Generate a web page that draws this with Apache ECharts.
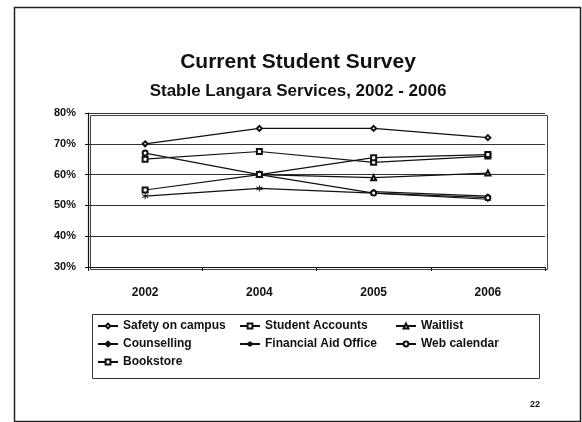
<!DOCTYPE html>
<html>
<head>
<meta charset="utf-8">
<script src="https://cdn.jsdelivr.net/npm/echarts@6/dist/echarts.min.js"></script>
<style>
  html, body { margin: 0; padding: 0; background: #fff; }
  #chart { width: 582px; height: 422px; }
</style>
</head>
<body>
<div id="chart"></div>
<script>
// data
const years = ["2002", "2004", "2005", "2006"];
const safety = [70, 75, 75, 72];
const studentAccounts = [65, 67.5, 64, 66];
const waitlist = [null, 60, 59, 60.5];
const counselling = [null, null, 54.5, 53];
const financialAid = [53, 55.5, 54, 52];
const webCalendar = [67, 60, 54, 52.5];
const bookstore = [55, 60, 65.5, 66.5];
const yTicks = { min: 30, max: 80, step: 10 };

const FONT = "Liberation Sans";
const star = "path://M0,-5L0,5M-4.3,-2.5L4.3,2.5M-4.3,2.5L4.3,-2.5";

function line(name, data, symbol) {
  return {
    name: name,
    type: "line",
    data: data,
    symbol: symbol,
    symbolSize: symbol === star ? 6 : 5,
    showSymbol: true,
    lineStyle: { color: "#111", width: 1.2 },
    itemStyle: { color: "#111", borderColor: "#111", borderWidth: 1 },
    emphasis: { disabled: true }
  };
}

const legendBase = {
  orient: "vertical",
  itemWidth: 20,
  itemHeight: 6,
  itemGap: 6,
  textStyle: { fontFamily: FONT, fontWeight: "bold", fontSize: 12, color: "#111" },
  selectedMode: false
};

let chart = echarts.init(document.getElementById("chart"));
let option = {
  backgroundColor: "#fff",
  animation: false,
  title: {
    text: "Current Student Survey",
    subtext: "Stable Langara Services, 2002 - 2006",
    left: 293,
    top: 47,
    textAlign: "center",
    itemGap: 10,
    textStyle: { fontFamily: FONT, fontWeight: "bold", fontSize: 21, color: "#111" },
    subtextStyle: { fontFamily: FONT, fontWeight: "bold", fontSize: 17, color: "#111" }
  },
  // three legend columns inside one box
  legend: [
    Object.assign({}, legendBase, { left: 92, top: 315, data: ["Safety on campus", "Counselling", "Bookstore"] }),
    Object.assign({}, legendBase, { left: 234, top: 315, data: ["Student Accounts", "Financial Aid Office"] }),
    Object.assign({}, legendBase, { left: 390, top: 315, data: ["Waitlist", "Web calendar"] })
  ],
  grid: { left: 88, right: 37, top: 113, bottom: 155 },
  xAxis: {
    type: "category",
    data: years,
    boundaryGap: true,
    axisLine: { lineStyle: { color: "#111", width: 1 } },
    axisTick: { show: true, length: 4, lineStyle: { color: "#111" } },
    axisLabel: { margin: 20, fontFamily: FONT, fontWeight: "bold", fontSize: 12, color: "#111" }
  },
  yAxis: {
    type: "value",
    min: yTicks.min,
    max: yTicks.max,
    interval: yTicks.step,
    axisLine: { show: true, lineStyle: { color: "#111", width: 1.2 } },
    axisTick: { show: true, length: 3, lineStyle: { color: "#111" } },
    splitLine: { lineStyle: { color: "#333", width: 1 } },
    axisLabel: { margin: 12, formatter: "{value}%", fontFamily: FONT, fontWeight: "bold", fontSize: 11, color: "#111" }
  },
  series: [
    line("Safety on campus", safety, "emptyDiamond"),
    line("Student Accounts", studentAccounts, "emptyRect"),
    line("Waitlist", waitlist, "emptyTriangle"),
    line("Counselling", counselling, "diamond"),
    line("Financial Aid Office", financialAid, star),
    line("Web calendar", webCalendar, "emptyCircle"),
    line("Bookstore", bookstore, "emptyRect")
  ],
  graphic: [
    // slide frame
    { type: "rect", left: 12, top: 5, shape: { width: 566, height: 414 },
      style: { fill: "none", stroke: "#222", lineWidth: 1.5 }, silent: true },
    // plot box
    { type: "rect", left: 88, top: 113, shape: { width: 457, height: 154 },
      style: { fill: "none", stroke: "#444", lineWidth: 1 }, silent: true },
    // legend box
    { type: "rect", left: 90, top: 312, shape: { width: 447, height: 64 },
      style: { fill: "none", stroke: "#333", lineWidth: 1 }, silent: true },
    { type: "text", left: 530, top: 400,
      style: { text: "22", font: "bold 9px 'Liberation Sans'", fill: "#111" }, silent: true }
  ]
};

option && chart.setOption(option);
</script>
</body>
</html>
